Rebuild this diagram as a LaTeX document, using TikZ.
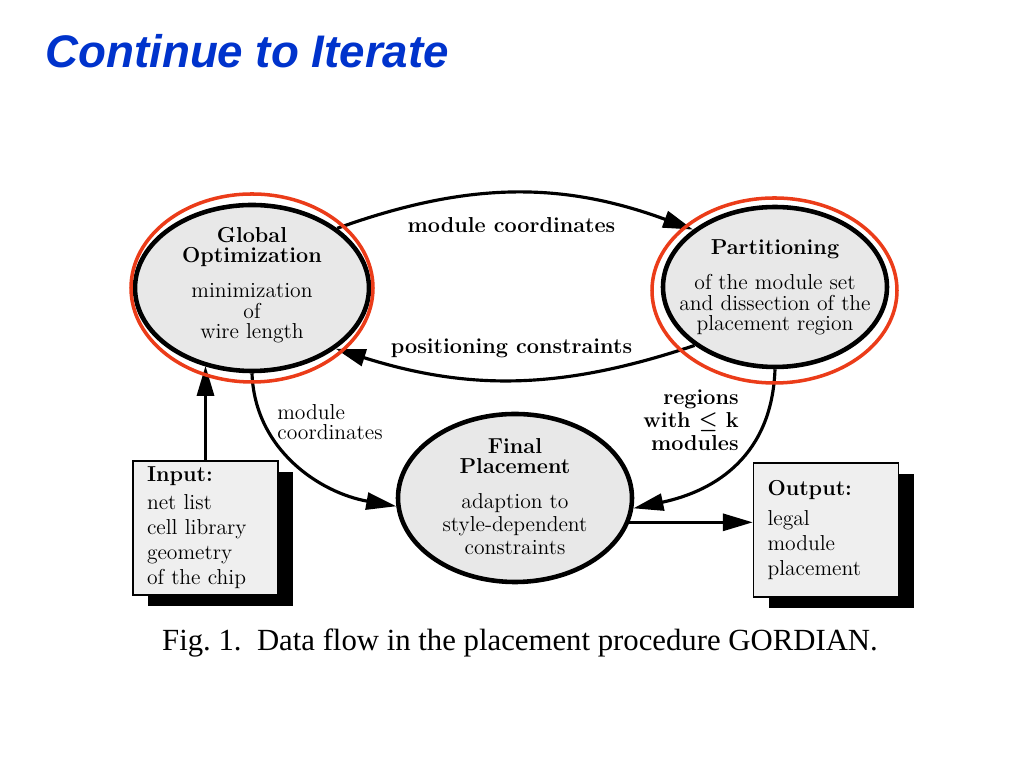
\documentclass[tikz,border=0pt]{standalone}
\usepackage{amsmath}
\usepackage{fontspec}
\newfontfamily\titlefont{Liberation Sans}
\newfontfamily\capfont{Liberation Serif}
\definecolor{titleblue}{RGB}{0, 51, 204}
\definecolor{markred}{RGB}{235, 60, 25}
\definecolor{paper}{RGB}{232, 232, 232}
\usetikzlibrary{shapes.geometric, arrows.meta, positioning, shadows}

\begin{document}
\begin{tikzpicture}[
  oval/.style={draw, ellipse, line width=2.6pt, fill=paper, inner sep=0pt},
  txt/.style={align=center, inner sep=0pt, font=\fontsize{12.3}{11.6}\selectfont},
  iobox/.style={draw, line width=0.8pt, fill=paper!70, minimum height=2.68cm, text width=2.34cm, inner xsep=0.28cm, align=left, font=\fontsize{12.3}{14.2}\selectfont, drop shadow={shadow xshift=0.3cm, shadow yshift=-0.23cm, fill=black, opacity=1}},
  lbl/.style={align=center, inner sep=0pt, font=\fontsize{12.3}{11.6}\selectfont\bfseries},
  arr/.style={-{Triangle[length=0.6cm, width=0.34cm]}, line width=1.8pt},
  ring/.style={draw=markred, line width=2pt},
]
  \useasboundingbox (0,0) rectangle (20.48,15.36);
  \node[anchor=west, inner sep=0pt, text=titleblue, font=\titlefont\fontsize{26}{30}\selectfont\bfseries\itshape] (title) at (0.9, 14.33) {Continue to Iterate};

  \node[oval, minimum width=4.68cm, minimum height=3.32cm] (glob) at (5.04, 9.60) {};
  \node[oval, minimum width=4.48cm, minimum height=3.2cm] (part) at (15.50, 9.62) {};
  \node[oval, minimum width=4.68cm, minimum height=3.36cm] (fin) at (10.30, 5.40) {};
  \node[txt] (globtxt) at (5.04, 9.66) {\textbf{Global}\\\textbf{Optimization}\\[8.5pt]minimization\\of\\wire length};
  \node[txt] (parttxt) at (15.50, 9.61) {\textbf{Partitioning}\\[8.5pt]of the module set\\and dissection of the\\placement region};
  \node[txt] (fintxt) at (10.30, 5.43) {\textbf{Final}\\\textbf{Placement}\\[8.5pt]adaption to\\[1.5pt]style-dependent\\[1.5pt]constraints};

  \node[iobox] (inp) at (4.11, 4.80) {\textbf{Input:}\\[1.7pt]net list\\cell library\\geometry\\of the chip};
  \node[iobox] (out) at (16.52, 4.76) {\textbf{Output:}\\[3pt]legal\\module\\placement\\[6pt]};

  \draw[arr] (glob.35) to[bend left=20] (part.145);
  \draw[arr] (part.216) to[bend left=18] (glob.-36);
  \draw[arr] (inp.north) -- (inp.north |- glob.238);
  \draw[arr] (glob.south) to[out=-88, in=170] (fin.184);
  \draw[arr] (part.south) to[out=-92, in=12, looseness=1.1] (fin.-5);
  \draw[arr] (fin.-12) -- (fin.-12 -| out.west);

  \node[lbl] (topl) at (10.23, 10.86) {module coordinates};
  \node[lbl] (botl) at (10.23, 8.40) {positioning constraints};
  \node[txt, anchor=west, align=left] (leftl) at (5.54, 6.92) {module\\coordinates};
  \node[lbl, anchor=east, align=right] (rightl) at (14.78, 6.96) {regions\\[1.5pt]with $\boldsymbol{\leq}$ k\\[1.5pt]modules};

  \draw[ring] (glob.center) ellipse[x radius=2.42cm, y radius=1.88cm];
  \draw[ring] (15.49, 9.55) ellipse[x radius=2.45cm, y radius=1.85cm];

  \node[inner sep=0pt, font=\capfont\fontsize{17.5}{20}\selectfont] (caption) at (10.40, 2.50) {Fig.~1.\ \ Data flow in the placement procedure GORDIAN.};
\end{tikzpicture}
\end{document}
